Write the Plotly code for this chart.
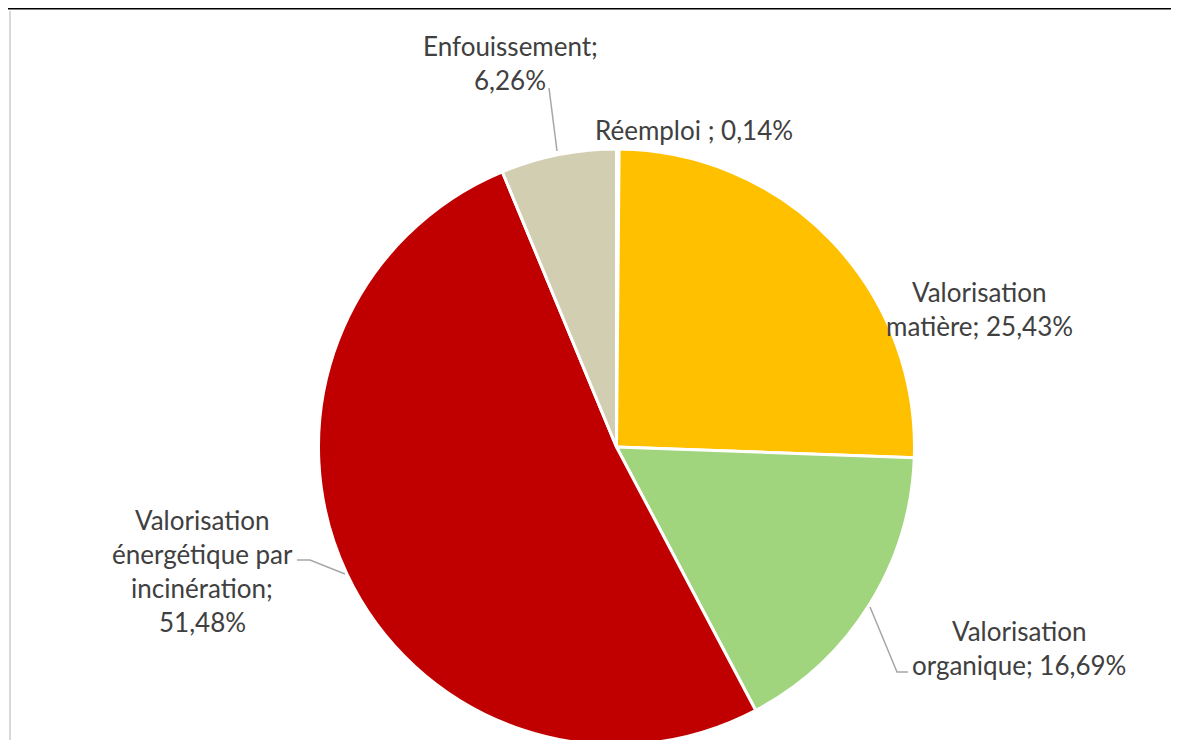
import plotly.graph_objects as go

# données du camembert (ordre Excel, sens horaire depuis midi)
labels = ["Réemploi ", "Valorisation matière", "Valorisation organique",
          "Valorisation énergétique par incinération", "Enfouissement"]
values = [0.14, 25.43, 16.69, 51.48, 6.26]
colors = ["#4472C4", "#FFC000", "#A0D57E", "#C00000", "#D2CEB1"]

# étiquettes découpées en lignes, comme dans Excel
label_lines = [
    ["Réemploi ; 0,14%"],
    ["Valorisation", "matière; 25,43%"],
    ["Valorisation", "organique; 16,69%"],
    ["Valorisation", "énergétique par", "incinération;", "51,48%"],
    ["Enfouissement;", "6,26%"],
]

W, H = 1171, 740
OFF = 8  # marge par défaut du <body>
def px(x, y):
    # coordonnées de la page -> coordonnées papier
    return (x - OFF) / W, 1 - (y - OFF) / H

# centre et rayon du disque (pixels de la page)
cx, cy, r = 616.5, 447, 298
x0, y1 = px(cx - r, cy - r)
x1, y0 = px(cx + r, cy + r)

fig = go.Figure(go.Pie(
    labels=labels, values=values, sort=False, direction="clockwise", rotation=0,
    marker=dict(colors=colors, line=dict(color="white", width=3)),
    textinfo="none", hoverinfo="label+percent", showlegend=False,
    domain=dict(x=[x0, x1], y=[max(y0, 0), y1]),
))

# position (centre x, y de la 1re ligne) de chaque étiquette
label_pos = [(694, 130), (979, 292), (1019, 631), (202, 520), (510, 46)]
line_gap = 34
font = dict(family="Lato", size=26, color="#404040")
for lines, (lx, ly) in zip(label_lines, label_pos):
    for i, t in enumerate(lines):
        x, y = px(lx, ly + i * line_gap)
        fig.add_annotation(x=x, y=y, xref="paper", yref="paper", text=t,
                           showarrow=False, font=font, xanchor="center", yanchor="middle")

# lignes de rappel
leaders = [
    [(549, 88), (557, 151)],
    [(297, 560), (310, 560), (345, 574)],
    [(870, 607), (897, 672), (908, 672)],
]
for pts in leaders:
    path = "M " + " L ".join(f"{px(x, y)[0]},{px(x, y)[1]}" for x, y in pts)
    fig.add_shape(type="path", path=path, xref="paper", yref="paper",
                  line=dict(color="#A6A6A6", width=1.5))

# restes du tableau au-dessus et bord gauche
fig.add_shape(type="line", xref="paper", yref="paper", x0=0, x1=1,
              y0=1, y1=1, line=dict(color="black", width=3))
fig.add_shape(type="line", xref="paper", yref="paper", x0=px(10, 0)[0], x1=px(10, 0)[0],
              y0=0, y1=px(0, 11)[1], line=dict(color="#D9D9D9", width=2))

fig.update_layout(width=W, height=H, margin=dict(l=0, r=0, t=0, b=0),
                  paper_bgcolor="white", plot_bgcolor="white")
fig.write_html("out.html")
